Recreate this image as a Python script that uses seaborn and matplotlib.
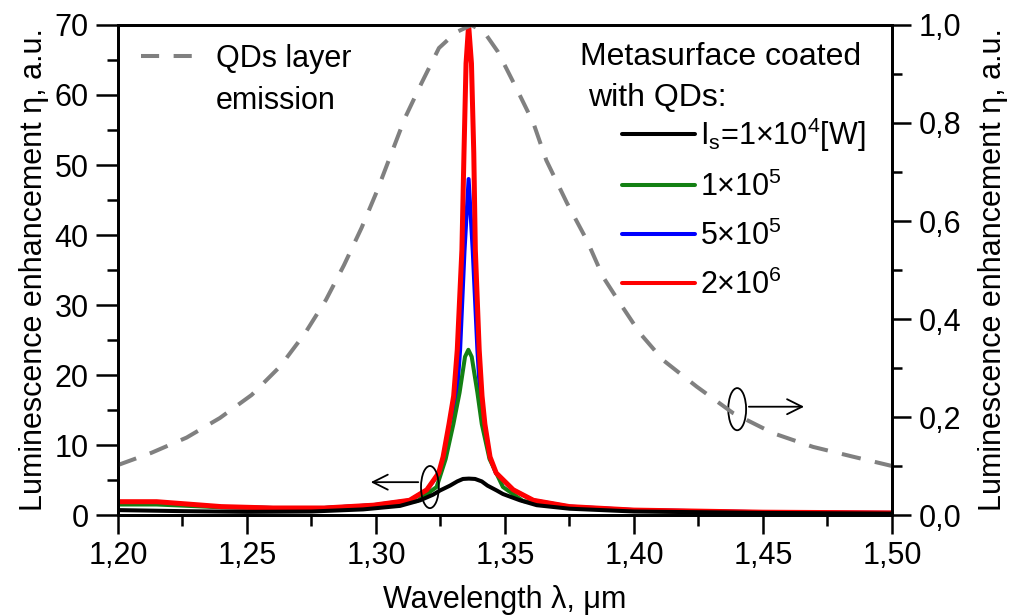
import numpy as np
import pandas as pd
import matplotlib
matplotlib.use("Agg")
import matplotlib.pyplot as plt
import seaborn as sns
from matplotlib.patches import Ellipse
from matplotlib.lines import Line2D
from matplotlib.ticker import MultipleLocator, FixedLocator

# ---------------- data ----------------
wl_black = [1.200, 1.225, 1.250, 1.275, 1.295, 1.3093, 1.3171, 1.3221, 1.3248, 1.3287,
            1.3315, 1.3337, 1.3360, 1.3384, 1.3410, 1.3432, 1.3468, 1.3492, 1.3558,
            1.3623, 1.375, 1.400, 1.450, 1.500]
eta_black = [0.7, 0.55, 0.45, 0.5, 0.8, 1.3, 2.1, 2.9, 3.5, 4.2,
             4.8, 5.15, 5.2, 5.15, 4.8, 4.2, 3.5, 3.0, 2.1,
             1.4, 0.9, 0.5, 0.3, 0.2]

wl_green = [1.200, 1.215, 1.240, 1.260, 1.280, 1.300, 1.316, 1.3235, 1.3270, 1.3300,
            1.3324, 1.3345, 1.3358, 1.3371, 1.3393, 1.3410, 1.3440, 1.3492, 1.357,
            1.375, 1.400, 1.450, 1.500]
eta_green = [1.5, 1.5, 1.1, 1.0, 1.0, 1.4, 2.0, 4.0, 8.0, 13.0,
             17.5, 22.6, 23.6, 22.6, 17.5, 13.0, 8.0, 4.0, 2.0,
             1.1, 0.6, 0.35, 0.25]

wl_blue = [1.200, 1.215, 1.240, 1.260, 1.280, 1.299, 1.3132, 1.3198, 1.3244, 1.3261,
           1.3285, 1.3313, 1.3326, 1.3343, 1.3359, 1.3375, 1.3393, 1.3404, 1.3420,
           1.3441, 1.3465, 1.3531, 1.3608, 1.375, 1.400, 1.450, 1.500]
eta_blue = [1.85, 1.85, 1.15, 1.0, 1.0, 1.4, 2.1, 3.6, 6.0, 8.2,
            13.0, 16.9, 23.6, 37.7, 48.0, 37.7, 23.6, 16.9, 13.0,
            8.2, 6.0, 3.6, 2.1, 1.2, 0.7, 0.4, 0.3]

wl_red = [1.200, 1.215, 1.240, 1.260, 1.280, 1.299, 1.313, 1.3197, 1.3243, 1.3260,
          1.3283, 1.3301, 1.3315, 1.3333, 1.3341, 1.3349, 1.3359, 1.3370, 1.3379,
          1.3385, 1.3400, 1.3411, 1.3422, 1.3442, 1.3466, 1.3532, 1.3610, 1.375,
          1.400, 1.450, 1.500]
eta_red = [1.9, 1.9, 1.2, 1.0, 1.0, 1.4, 2.1, 3.6, 6.0, 8.3,
           13.0, 17.0, 23.6, 37.9, 51.7, 64.5, 70.0, 64.5, 51.7,
           37.9, 23.6, 17.0, 13.0, 8.3, 6.0, 3.6, 2.1, 1.2,
           0.7, 0.4, 0.3]

wl_qd = [1.200, 1.213, 1.2266, 1.2395, 1.2518, 1.2628, 1.2725, 1.2806, 1.2876, 1.2944,
         1.3003, 1.3112, 1.3177, 1.3244, 1.331, 1.337, 1.342, 1.3473, 1.3545, 1.361,
         1.366, 1.374, 1.3817, 1.388, 1.3946, 1.4023, 1.4113, 1.4243, 1.4384, 1.4539,
         1.4694, 1.4849, 1.500]
em_qd = [0.102, 0.127, 0.158, 0.198, 0.245, 0.303, 0.371, 0.439, 0.510, 0.586,
         0.660, 0.810, 0.882, 0.953, 0.985, 1.0, 0.985, 0.945, 0.87, 0.80,
         0.724, 0.637, 0.561, 0.486, 0.432, 0.371, 0.316, 0.262, 0.208, 0.167,
         0.139, 0.119, 0.100]

series_labels = ["I$_\\mathrm{s}$=1×10$^\\mathrm{4}$[W]", "1×10$^\\mathrm{5}$",
                 "5×10$^\\mathrm{5}$", "2×10$^\\mathrm{6}$"]
qd_label = ["QDs layer", "emission"]
legend_title = ["Metasurface coated", "with QDs:"]

xticks = [1.20, 1.25, 1.30, 1.35, 1.40, 1.45, 1.50]
xtick_labels = ["1,20", "1,25", "1,30", "1,35", "1,40", "1,45", "1,50"]
yticks_left = [0, 10, 20, 30, 40, 50, 60, 70]
ytick_labels_left = ["0", "10", "20", "30", "40", "50", "60", "70"]
yticks_right = [0.0, 0.2, 0.4, 0.6, 0.8, 1.0]
ytick_labels_right = ["0,0", "0,2", "0,4", "0,6", "0,8", "1,0"]

# ---------------- style ----------------
sns.set_theme(style="ticks")
plt.rcParams['font.family'] = ['Liberation Sans', 'DejaVu Sans']
plt.rcParams['mathtext.fontset'] = 'custom'
plt.rcParams['mathtext.rm'] = 'Liberation Sans'
plt.rcParams['mathtext.it'] = 'Liberation Sans:italic'
plt.rcParams['mathtext.bf'] = 'Liberation Sans:bold'
plt.rcParams['axes.linewidth'] = 2.0
for k in ['text.color', 'axes.labelcolor', 'xtick.color', 'ytick.color', 'axes.edgecolor']:
    plt.rcParams[k] = 'black'

FS = 22
c_black, c_green, c_blue, c_red, c_gray = "#000000", "#138013", "#0000ff", "#ff0000", "#808080"

fig = plt.figure(figsize=(10.16, 6.15), dpi=100)
ax = fig.add_axes([0.11614, 0.16260, 0.76181, 0.79675])

sns.lineplot(x=wl_blue, y=eta_blue, ax=ax, color=c_blue, lw=2.9, estimator=None, sort=False, legend=False)
sns.lineplot(x=wl_green, y=eta_green, ax=ax, color=c_green, lw=2.9, estimator=None, sort=False, legend=False)
sns.lineplot(x=wl_red, y=eta_red, ax=ax, color=c_red, lw=3.6, estimator=None, sort=False, legend=False)
sns.lineplot(x=wl_black, y=eta_black, ax=ax, color=c_black, lw=2.9, estimator=None, sort=False, legend=False)

ax.set_xlim(1.20, 1.50)
ax.set_ylim(0, 70)
ax.xaxis.set_major_locator(FixedLocator(xticks))
ax.set_xticklabels(xtick_labels)
ax.xaxis.set_minor_locator(MultipleLocator(0.025))
ax.yaxis.set_major_locator(FixedLocator(yticks_left))
ax.set_yticklabels(ytick_labels_left)
ax.yaxis.set_minor_locator(MultipleLocator(5))
ax.tick_params(axis='x', which='major', length=14, width=1.8, direction='out', labelsize=FS, pad=5, top=False)
ax.tick_params(axis='x', which='minor', length=8, width=1.8, direction='out', top=False)
ax.tick_params(axis='y', which='major', length=16, width=1.8, direction='out', labelsize=FS, pad=5, right=False)
ax.tick_params(axis='y', which='minor', length=8, width=1.8, direction='out', right=False)
ax.set_xlabel("Wavelength λ, μm", fontsize=FS, labelpad=10)
ax.set_ylabel("Luminescence enhancement η, a.u.", fontsize=FS, labelpad=4)

ax2 = ax.twinx()
sns.lineplot(x=wl_qd, y=em_qd, ax=ax2, color=c_gray, lw=2.9, estimator=None, sort=False,
             legend=False, dashes=False)
ax2.get_lines()[0].set_dashes((4.8, 3.6))
ax2.get_lines()[0].set_dash_capstyle('butt')
ax2.set_ylim(0, 1.0)
ax2.yaxis.set_major_locator(FixedLocator(yticks_right))
ax2.set_yticklabels(ytick_labels_right)
ax2.yaxis.set_minor_locator(MultipleLocator(0.1))
ax2.tick_params(axis='y', which='major', length=14, width=1.8, direction='out', labelsize=FS, pad=5)
ax2.tick_params(axis='y', which='minor', length=7, width=1.8, direction='out')
ax2.set_ylabel("Luminescence enhancement η, a.u.", fontsize=FS, labelpad=12)
for sp in ax2.spines.values():
    sp.set_linewidth(2.0)

# legends
h_qd = [Line2D([], [], color=c_gray, lw=2.9, dashes=(4.5, 3.6)), Line2D([], [], color='none')]
leg1 = ax2.legend(h_qd, qd_label, loc='upper left', bbox_to_anchor=(0.030, 0.962),
                  frameon=False, fontsize=FS, handlelength=1.9, handletextpad=0.55,
                  labelspacing=0.4, borderpad=0, borderaxespad=0)
ax2.add_artist(leg1)

h_ser = [Line2D([], [], color=c, lw=2.9) for c in (c_black, c_green, c_blue, c_red)]
leg2 = ax2.legend(h_ser, series_labels, loc='upper left', bbox_to_anchor=(0.651, 0.815),
                  frameon=False, fontsize=FS, handlelength=2.4, handletextpad=0.15,
                  labelspacing=0.58, borderpad=0, borderaxespad=0)

ax2.text(0.597, 0.935, legend_title[0], transform=ax2.transAxes, fontsize=FS + 1, va='center', ha='left')
ax2.text(0.607, 0.850, legend_title[1], transform=ax2.transAxes, fontsize=FS + 1, va='center', ha='left')

# ellipse markers with arrows
ax2.add_patch(Ellipse((0.403, 0.057), 0.023, 0.086, transform=ax2.transAxes,
                      fill=False, ec='black', lw=1.3))
ax2.annotate('', xy=(0.323, 0.067), xytext=(0.3915, 0.067), xycoords='axes fraction',
             arrowprops=dict(arrowstyle='->,head_length=0.9,head_width=0.45', lw=1.3, color='black'))
ax2.add_patch(Ellipse((0.800, 0.216), 0.023, 0.086, transform=ax2.transAxes,
                      fill=False, ec='black', lw=1.3))
ax2.annotate('', xy=(0.890, 0.221), xytext=(0.8115, 0.221), xycoords='axes fraction',
             arrowprops=dict(arrowstyle='->,head_length=0.9,head_width=0.45', lw=1.3, color='black'))

fig.savefig("out.png", dpi=100)
